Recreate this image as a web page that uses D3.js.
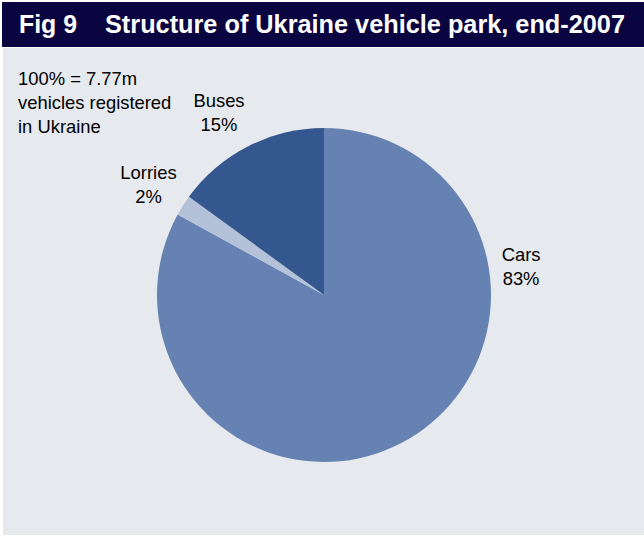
<!DOCTYPE html>
<html>
<head>
<meta charset="utf-8">
<script src="https://cdn.jsdelivr.net/npm/d3@7"></script>
<style>
  html, body { margin: 0; padding: 0; background: #ffffff; }
  svg { display: block; font-family: "Liberation Sans", Arial, sans-serif; }
</style>
</head>
<body>
<svg id="chart" width="644" height="537"></svg>
<script>
// Vehicle park composition, end-2007 (share of 7.77m registered vehicles)
const categories = ["Cars", "Lorries", "Buses"];
const shares = [83, 2, 15];
const labels = ["83%", "2%", "15%"];
const colors = ["#6682b2", "#b4c2d9", "#33578e"];

const titleFig = "Fig 9";
const titleText = "Structure of Ukraine vehicle park, end-2007";
const noteLines = ["100% = 7.77m", "vehicles registered", "in Ukraine"];

const W = 644, H = 537;
const svg = d3.select("#chart");

// panel backgrounds
svg.append("rect").attr("x", 3).attr("y", 48).attr("width", W - 3).attr("height", H - 50)
  .attr("fill", "#e6e9ee");
svg.append("rect").attr("x", 2).attr("y", 2).attr("width", W - 2).attr("height", 45)
  .attr("fill", "#0a0440");

// title (slightly condensed bold)
const titleSize = 26;
svg.append("text").attr("x", 19).attr("y", 33)
  .attr("fill", "#ffffff").attr("font-weight", "bold").attr("font-size", titleSize)
  .attr("textLength", 58).attr("lengthAdjust", "spacingAndGlyphs")
  .text(titleFig);
svg.append("text").attr("x", 105).attr("y", 33)
  .attr("fill", "#ffffff").attr("font-weight", "bold").attr("font-size", titleSize)
  .attr("textLength", 520).attr("lengthAdjust", "spacingAndGlyphs")
  .text(titleText);

// note
const fs = 18.4;
const note = svg.append("text").attr("font-size", fs).attr("fill", "#000");
noteLines.forEach((t, i) => {
  note.append("tspan").attr("x", 18).attr("y", 85 + i * 24).text(t);
});

// pie, clockwise from 12 o'clock
const cx = 324, cy = 295, R = 167;
const data = categories.map((c, i) => ({ cat: c, value: shares[i], label: labels[i], color: colors[i] }));
const pie = d3.pie().value(d => d.value).sort(null);
const arc = d3.arc().innerRadius(0).outerRadius(R);
const g = svg.append("g").attr("transform", `translate(${cx},${cy})`);
const arcs = pie(data);
g.selectAll("path").data(arcs).join("path")
  .attr("d", arc).attr("fill", d => d.data.color);

// slice labels: angle (degrees from north, clockwise) and radius of each label block
const labelPlace = {
  Cars:    { angle: 82,  r: 199 },
  Lorries: { angle: -58, r: 207 },
  Buses:   { angle: -30, r: 210 }
};
arcs.forEach(a => {
  const p = labelPlace[a.data.cat];
  const rad = p.angle * Math.PI / 180;
  const x = Math.sin(rad) * p.r, y = -Math.cos(rad) * p.r;
  const t = g.append("text").attr("text-anchor", "middle").attr("font-size", fs).attr("fill", "#000");
  t.append("tspan").attr("x", x).attr("y", y - 6).text(a.data.cat);
  t.append("tspan").attr("x", x).attr("y", y + 18).text(a.data.label);
});
</script>
</body>
</html>
